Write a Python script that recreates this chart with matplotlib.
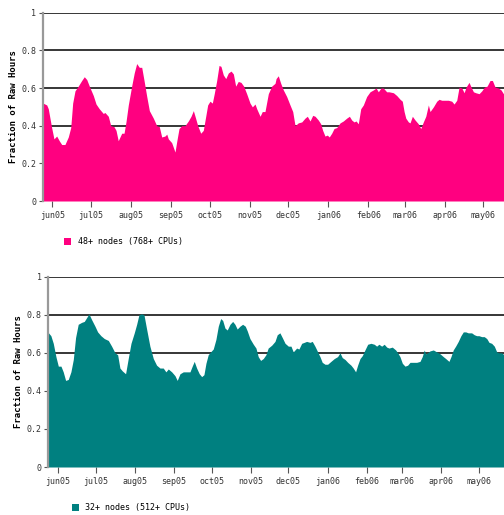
import numpy as np
import pandas as pd
import matplotlib
matplotlib.use('Agg')
import matplotlib.pyplot as plt
import matplotlib.dates as mdates
from matplotlib.patches import Patch

start = pd.Timestamp('2005-06-01')

# 48+ nodes: day offset from 2005-06-01, fraction of raw hours
days_48 = [-7.2, -4.3, -3.1, -0.5, 1.3, 3.4, 5.4, 7.3, 9.8, 12.4, 14.3, 15.8, 17.6, 20.1, 22.8,
           24.8, 26.7, 28.7, 31.8, 33.9, 36.4, 39.5, 40.8, 43.4, 45.3, 47.8, 49.4, 51.1, 53.8,
           55.6, 57.1, 58.9, 61.5, 63.5, 65.4, 67.4, 69.3, 71.1, 73.2, 75.2, 78.3, 80.9, 82.9,
           84.8, 87.3, 88.7, 89.9, 92.5, 95.1, 96.4, 98.2, 100.3, 102.8, 105.4, 107.5, 109.3,
           110.6, 112.7, 115.0, 117.0, 118.9, 120.4, 122.2, 124.0, 125.5, 127.4, 129.2, 130.7,
           132.5, 134.4, 136.4, 138.5, 140.3, 142.1, 144.1, 146.2, 148.3, 150.6, 153.2, 155.0,
           157.1, 158.4, 161.0, 162.7, 164.8, 167.4, 170.0, 172.6,
           173.4, 175.1, 177.0, 179.0, 181.6, 184.2, 186.3, 188.1, 190.6, 193.3, 195.8, 197.6,
           199.7, 201.8, 203.6, 206.1, 208.0, 209.5, 211.3, 213.1, 214.6, 216.5, 218.3, 220.4,
           223.0, 225.5, 228.1, 230.2, 232.0, 233.8, 235.4, 237.1, 239.0, 241.0, 243.6, 246.2,
           248.8, 250.9, 252.6, 254.7, 256.5, 259.1,
           260.9, 264.3, 266.9, 269.5, 271.2, 272.6, 273.9, 275.9, 277.2, 279.0, 281.1, 283.6,
           285.5, 287.5, 289.4, 291.4, 292.7, 295.3, 297.9, 299.7, 301.8, 304.3, 306.9, 309.5,
           311.3, 313.4, 315.2, 317.3, 319.1, 320.6, 322.9, 324.5, 326.3, 328.1, 330.7, 332.8,
           334.8, 336.9, 339.2, 341.0, 343.1, 345.6, 347.7, 350.0]
vals_48 = [0.52, 0.51, 0.49, 0.39, 0.33, 0.345, 0.32, 0.30, 0.30, 0.34, 0.39, 0.52, 0.585, 0.61,
           0.64, 0.66, 0.645, 0.61, 0.56, 0.515, 0.49, 0.465, 0.47, 0.45, 0.40, 0.395, 0.375,
           0.32, 0.36, 0.36, 0.42, 0.51, 0.61, 0.68, 0.73, 0.71, 0.71, 0.64, 0.555, 0.48, 0.44,
           0.40, 0.395,
           0.34, 0.345, 0.355, 0.33, 0.31, 0.26, 0.315, 0.385, 0.40, 0.40, 0.425, 0.45, 0.48,
           0.45, 0.40, 0.36, 0.375, 0.45, 0.51, 0.53, 0.52, 0.57, 0.64, 0.72, 0.715, 0.67, 0.65,
           0.68, 0.69, 0.675, 0.61, 0.635, 0.63, 0.61, 0.57, 0.52, 0.50, 0.515, 0.49, 0.45,
           0.475, 0.475, 0.57, 0.61, 0.625,
           0.65, 0.665, 0.625, 0.59, 0.555, 0.51, 0.475, 0.40, 0.415, 0.42, 0.44, 0.45, 0.425,
           0.455, 0.45, 0.43, 0.41, 0.375, 0.345, 0.35, 0.34, 0.36, 0.385, 0.39, 0.415, 0.425,
           0.44, 0.45, 0.43, 0.42, 0.425, 0.41, 0.49, 0.51, 0.555, 0.58, 0.59, 0.60, 0.58, 0.60,
           0.60, 0.58,
           0.58, 0.575, 0.56, 0.54, 0.53, 0.475, 0.44, 0.42, 0.415, 0.45, 0.43, 0.41, 0.385,
           0.42, 0.45, 0.51, 0.475, 0.50, 0.53, 0.54, 0.535, 0.535, 0.535, 0.53, 0.515, 0.535,
           0.605, 0.60, 0.575, 0.605, 0.63, 0.605, 0.58, 0.575, 0.57, 0.585, 0.605, 0.61, 0.64,
           0.64, 0.605, 0.60, 0.59, 0.565]

# 32+ nodes
days_32 = [-7.5, -5.6, -3.7, -1.6, 0.3, 2.4, 4.2, 6.1, 8.2, 10.3, 12.2, 14.0, 16.1, 18.8, 20.9,
           22.8, 24.6, 26.7, 29.4, 31.5, 34.1, 36.8, 40.0, 42.6, 45.3, 47.4, 49.2, 51.1, 53.7,
           55.8, 58.0, 60.6, 62.5, 64.3, 66.4, 68.3, 70.4, 73.0, 75.7, 78.3, 81.0, 83.6,
           85.7, 87.6, 90.3, 92.9, 94.7, 96.9, 99.5, 102.2, 104.8, 106.6, 108.2, 110.1, 112.2,
           114.1, 115.9, 117.5, 119.3, 121.2, 123.3, 125.4, 127.3, 129.2, 130.8, 132.6, 134.4,
           136.6, 138.7, 140.5, 142.3, 144.5, 146.6, 148.7, 150.3, 152.4, 155.1, 157.2, 159.0,
           160.9, 163.0, 165.1, 166.9, 169.7, 172.3, 174.1, 176.2,
           178.1, 180.3, 182.9, 185.0, 186.8, 189.5, 191.3, 193.5, 195.5, 197.4, 200.1, 201.9,
           204.0, 206.2, 208.0, 209.8, 212.0, 214.1, 216.7, 219.4, 222.0, 223.9, 225.7, 227.9,
           230.0, 232.6, 234.4, 236.3, 237.9, 239.8, 241.6, 243.7, 245.9, 248.5, 251.1, 253.0,
           254.8, 257.0, 259.0, 261.0,
           262.8, 265.4, 268.1, 270.2, 271.5, 273.4, 275.5, 277.6, 279.5, 282.1, 284.8, 287.4,
           289.2, 290.8, 291.9, 293.5, 295.3, 298.0, 300.6, 303.3, 305.9, 307.8, 310.4, 312.0,
           313.8, 315.7, 317.8, 319.9, 321.8, 323.7, 325.7, 328.4, 330.5, 332.4, 334.2, 336.4,
           338.4, 340.4, 342.2, 344.3, 346.4, 348.3, 350.1, 352.2, 354.1]
vals_32 = [0.705, 0.69, 0.65, 0.58, 0.53, 0.53, 0.50, 0.455, 0.46, 0.50, 0.565, 0.68, 0.75,
           0.76, 0.765, 0.785, 0.805, 0.775, 0.74, 0.71, 0.69, 0.675, 0.665, 0.635, 0.60, 0.59,
           0.52, 0.505, 0.49, 0.57, 0.65, 0.705, 0.75, 0.80, 0.805, 0.80, 0.725, 0.635, 0.57,
           0.535, 0.52, 0.52,
           0.50, 0.515, 0.50, 0.48, 0.455, 0.49, 0.50, 0.50, 0.50, 0.53, 0.555, 0.52, 0.49,
           0.475, 0.485, 0.545, 0.59, 0.605, 0.62, 0.67, 0.74, 0.78, 0.77, 0.73, 0.72, 0.75,
           0.765, 0.75, 0.725, 0.74, 0.75, 0.74, 0.715, 0.675, 0.645, 0.625, 0.58, 0.56, 0.57,
           0.59, 0.625, 0.64, 0.66, 0.695, 0.705,
           0.68, 0.65, 0.635, 0.635, 0.605, 0.625, 0.62, 0.65, 0.655, 0.66, 0.655, 0.66, 0.635,
           0.605, 0.58, 0.55, 0.54, 0.54, 0.555, 0.57, 0.58, 0.60, 0.575, 0.565, 0.55, 0.535,
           0.52, 0.50, 0.535, 0.57, 0.585, 0.615, 0.645, 0.65, 0.645, 0.635, 0.645, 0.635,
           0.645, 0.63,
           0.625, 0.63, 0.615, 0.595, 0.58, 0.545, 0.53, 0.535, 0.55, 0.55, 0.55, 0.555, 0.58,
           0.615, 0.595, 0.60, 0.61, 0.615, 0.605, 0.595, 0.58, 0.57, 0.555, 0.58, 0.615, 0.635,
           0.66, 0.69, 0.71, 0.71, 0.705, 0.705, 0.695, 0.69, 0.69, 0.685, 0.685, 0.675, 0.655,
           0.65, 0.635, 0.605, 0.60, 0.60, 0.59]

labels = ['48+ nodes (768+ CPUs)', '32+ nodes (512+ CPUs)']
colors = ['#ff0080', '#008080']
yticks = [0, 0.2, 0.4, 0.6, 0.8, 1]
ytick_labels = ['0', '0.2', '0.4', '0.6', '0.8', '1']

mono = 'DejaVu Sans Mono'

fig = plt.figure(figsize=(5.04, 5.15), dpi=100)
ax1 = fig.add_axes([0.0853, 0.6097, 0.9147, 0.3656])
ax2 = fig.add_axes([0.0962, 0.0932, 0.9038, 0.3695])

panels = [(ax1, days_48, vals_48, -7.2, 350.0),
          (ax2, days_32, vals_32, -7.5, 354.1)]

for i, (ax, d, v, x0, x1) in enumerate(panels):
    dates = start + pd.to_timedelta(d, unit='D')
    ax.fill_between(dates, v, 0, color=colors[i], lw=0, zorder=2)
    ax.set_xlim(start + pd.Timedelta(days=x0), start + pd.Timedelta(days=x1))
    ax.set_ylim(0, 1)
    ax.set_yticks(yticks)
    ax.set_yticklabels(ytick_labels, family=mono, fontsize=6, color='#333333')
    ax.yaxis.grid(True, color='black', lw=1.1, zorder=1)
    ax.set_axisbelow(True)
    ax.xaxis.set_major_locator(mdates.MonthLocator())
    ax.xaxis.set_major_formatter(plt.FuncFormatter(
        lambda x, pos: mdates.num2date(x).strftime('%b%y').lower()))
    for lab in ax.get_xticklabels():
        lab.set_family(mono)
        lab.set_fontsize(6)
        lab.set_color('#333333')
    ax.tick_params(axis='x', length=4, width=0.8, color='#555555', pad=3)
    ax.tick_params(axis='y', length=3, width=0.8, color='#555555', pad=2)
    for s in ['top', 'right', 'bottom']:
        ax.spines[s].set_visible(False)
    ax.spines['left'].set_color('#999999')
    ax.spines['left'].set_linewidth(1.6)
    ax.set_ylabel('Fraction of Raw Hours', family=mono, fontsize=6.5, fontweight='bold')
    ax.yaxis.set_label_coords(-0.054 if i == 0 else -0.057, 0.5)
    ax.legend(handles=[Patch(facecolor=colors[i], edgecolor='none', label=labels[i])],
              loc='upper left', bbox_to_anchor=(0.03 if i == 0 else 0.035, -0.152),
              frameon=False, handlelength=0.8, handleheight=0.9, handletextpad=0.8,
              prop={'family': mono, 'size': 6})

fig.savefig('out.png', dpi=100)
